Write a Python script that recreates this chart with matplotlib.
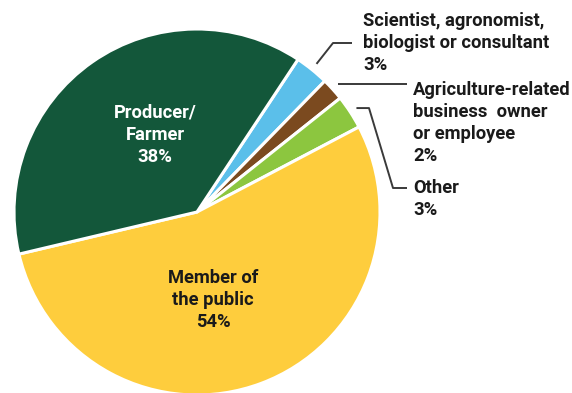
import matplotlib.pyplot as plt
import numpy as np

plt.rcParams['font.family'] = ['Roboto', 'DejaVu Sans']

# data (clockwise from top-right)
categories = ["Scientist, agronomist,\nbiologist or consultant",
              "Agriculture-related\nbusiness  owner\nor employee",
              "Other",
              "Member of\nthe public",
              "Producer/\nFarmer"]
shares = [3, 2, 3, 54, 38]
colors = ["#5bbfea", "#7b4a1f", "#8cc63f", "#fecd3d", "#13573a"]

W, H = 572, 393
FS = 13.2
fig = plt.figure(figsize=(W / 100, H / 100), dpi=100)
ax = fig.add_axes([0, 0, 1, 1])

cx, cy, R = 197, H - 212, 183
wedges, _ = ax.pie(shares, colors=colors, startangle=56.5, counterclock=False,
                   center=(cx, cy), radius=R,
                   wedgeprops=dict(edgecolor="white", linewidth=2.2))
ax.set_xlim(0, W)
ax.set_ylim(0, H)
ax.set_aspect("equal")
ax.axis("off")


def px(x, y):
    # pixel coords from top-left -> data coords
    return x, H - y


# labels inside the big slices
for i, (tx, ty, col) in [(4, (155, 135, "white")), (3, (213, 300, "#1a1a1a"))]:
    ax.text(*px(tx, ty), f"{categories[i]}\n{shares[i]}%", color=col,
            ha="center", va="center", fontsize=FS, fontweight="bold",
            linespacing=1.3)


def anchor(w, k=1.04):
    mid = np.deg2rad((w.theta1 + w.theta2) / 2)
    return cx + k * R * np.cos(mid), cy + k * R * np.sin(mid)


lc = dict(color="#3a3a3a", lw=1.4, solid_capstyle="butt")
tk = dict(ha="left", va="center", fontsize=FS, fontweight="bold",
          color="#1a1a1a", linespacing=1.27)

# Scientist
a0 = anchor(wedges[0])
pts = [a0, px(333, 43), px(352, 43)]
ax.plot(*zip(*pts), **lc)
ax.text(*px(363, 43), f"{categories[0]}\n{shares[0]}%", **tk)

# Agriculture-related
a1 = anchor(wedges[1])
pts = [a1, (px(407, 0)[0], a1[1])]
ax.plot(*zip(*pts), **lc)
ax.text(*px(413, 123), f"{categories[1]}\n{shares[1]}%", **tk)

# Other
a2 = anchor(wedges[2])
pts = [a2, (369, a2[1]), px(393, 188), px(407, 188)]
ax.plot(*zip(*pts), **lc)
ax.text(*px(413, 199), f"{categories[2]}\n{shares[2]}%", **tk)

fig.savefig("out.png", dpi=100)
